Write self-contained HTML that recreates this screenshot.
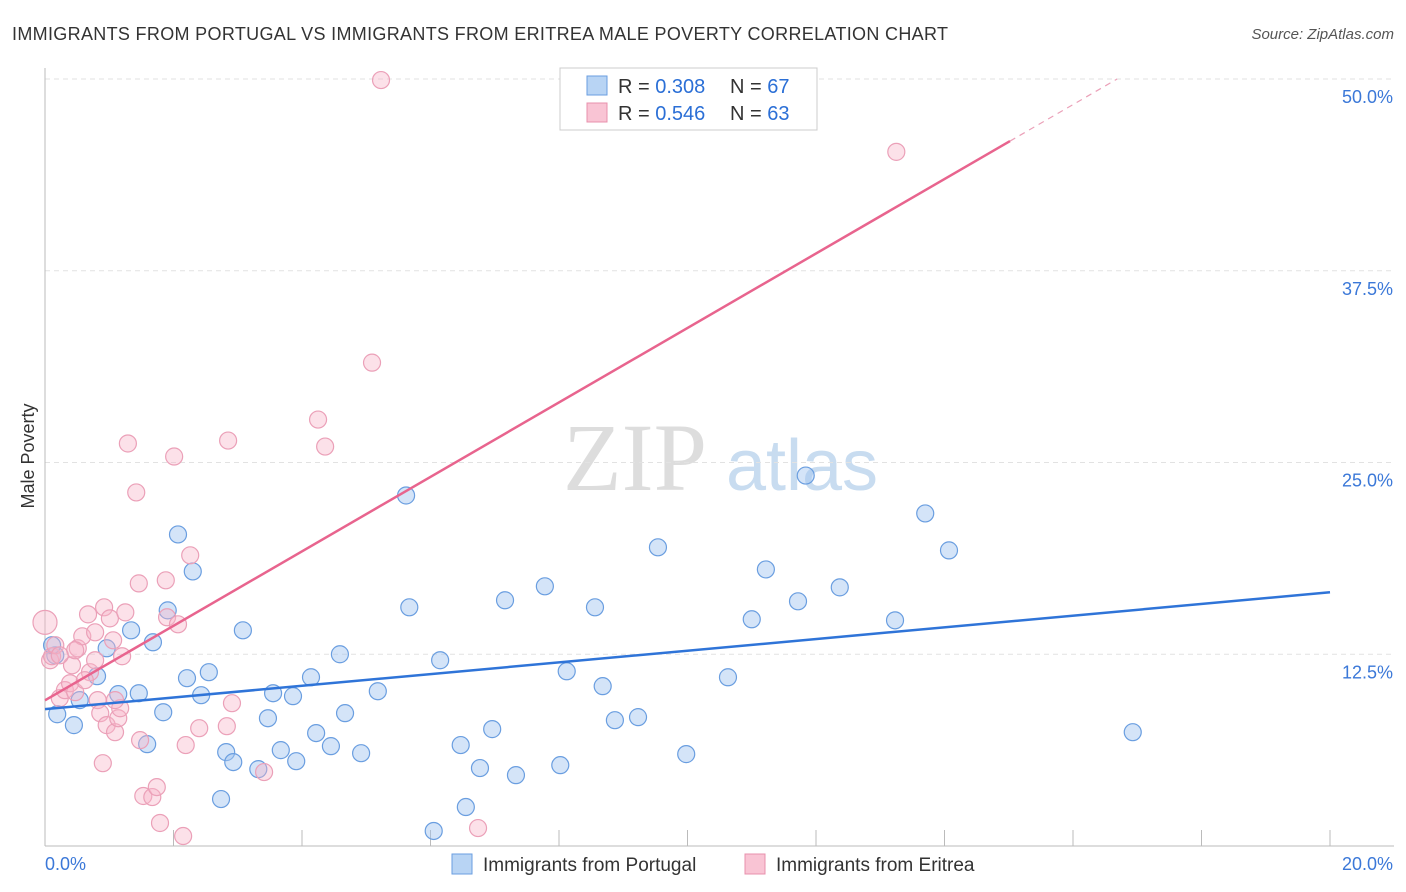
<!DOCTYPE html>
<html><head><meta charset="utf-8">
<style>
body{margin:0;background:#fff;font-family:"Liberation Sans",sans-serif;}
#wrap{position:relative;width:1406px;height:892px;overflow:hidden;}
</style></head>
<body>
<div id="wrap">
<svg id="chart" width="1406" height="892" xmlns="http://www.w3.org/2000/svg">
<text x="12" y="40" font-size="18" fill="#333" textLength="936" lengthAdjust="spacing">IMMIGRANTS FROM PORTUGAL VS IMMIGRANTS FROM ERITREA MALE POVERTY CORRELATION CHART</text>
<text x="1394" y="39" font-size="15" fill="#555" font-style="italic" text-anchor="end">Source: ZipAtlas.com</text>
<text x="34" y="456" font-size="18" fill="#333" text-anchor="middle" transform="rotate(-90 34 456)">Male Poverty</text>
<g>
<text x="635" y="490" font-size="96" fill="#ddd" font-family="Liberation Serif,serif" text-anchor="middle">ZIP</text>
<text x="802" y="490" font-size="72" fill="#c8dcf0" text-anchor="middle">atlas</text>
</g>
<g id="grid"></g><g id="axes"></g><g id="pts"></g><g id="lines"></g>
<g>
<rect x="560" y="68" width="257" height="62" fill="#fff" stroke="#ccc"/>
<rect x="587" y="76" width="20" height="19" fill="#b8d4f4" stroke="#6a9ee0"/>
<text x="618" y="93" font-size="20" fill="#333">R = <tspan fill="#2b6fd6">0.308</tspan></text>
<text x="730" y="93" font-size="20" fill="#333">N = <tspan fill="#2b6fd6">67</tspan></text>
<rect x="587" y="103" width="20" height="19" fill="#f9c4d4" stroke="#e890ac"/>
<text x="618" y="120" font-size="20" fill="#333">R = <tspan fill="#2b6fd6">0.546</tspan></text>
<text x="730" y="120" font-size="20" fill="#333">N = <tspan fill="#2b6fd6">63</tspan></text>
</g>
<g>
<rect x="452" y="854" width="20" height="20" fill="#b8d4f4" stroke="#6a9ee0"/>
<text x="483" y="871" font-size="19" fill="#333">Immigrants from Portugal</text>
<rect x="745" y="854" width="20" height="20" fill="#f9c4d4" stroke="#e890ac"/>
<text x="776" y="871" font-size="19" fill="#333">Immigrants from Eritrea</text>
</g>
</svg>
</div>
<script>
const xTicks=[0,20];
const xTickLabels=["0.0%","20.0%"];
const yTicks=[12.5,25,37.5,50];
const yTickLabels=["12.5%","25.0%","37.5%","50.0%"];
const blueX=[0.19,0.45,0.16,0.11,0.81,0.54,0.96,1.14,1.46,1.34,1.59,1.68,1.91,2.07,2.30,1.84,2.21,2.43,2.55,3.08,2.74,2.82,2.93,3.32,3.47,3.55,3.67,3.86,3.91,4.14,4.22,4.45,4.59,4.67,4.92,5.18,5.62,5.67,6.05,6.15,6.47,6.55,6.77,6.96,7.16,7.33,7.78,8.02,8.12,8.56,8.68,8.87,9.23,9.54,9.98,10.63,11.00,11.22,11.72,11.84,12.37,13.23,13.70,14.07,16.93];
const blueY=[8.59,7.88,12.43,13.09,11.07,9.51,12.89,9.90,9.96,14.06,6.64,13.28,15.36,20.31,17.90,8.72,10.94,9.83,11.33,14.06,3.06,6.12,5.47,5.01,8.33,9.96,6.25,9.77,5.53,11.00,7.36,6.51,12.50,8.66,6.05,10.09,22.85,15.56,0.98,12.11,6.58,2.54,5.08,7.62,16.02,4.62,16.93,5.27,11.39,15.56,10.42,8.20,8.40,19.47,5.99,11.00,14.78,18.03,15.95,24.15,16.86,14.71,21.68,19.27,7.42];
const pinkX=[0,0.08,0.11,0.16,0.23,0.31,0.42,0.39,0.47,0.51,0.58,0.67,0.70,0.78,0.82,0.86,0.90,0.92,0.96,1.01,1.06,1.09,1.14,1.17,1.20,1.25,1.29,1.42,1.46,1.48,1.53,1.67,1.74,1.79,1.88,1.90,2.01,2.07,2.15,2.19,2.26,2.40,2.85,2.83,2.91,3.41,4.25,4.36,5.09,5.23,6.74,13.25,0.47,0.62,0.23,0.78,1.09];
const pinkY=[14.58,12.11,12.37,13.09,9.64,10.16,11.78,10.61,10.03,12.89,13.67,15.10,11.33,13.93,9.51,8.66,5.40,15.56,7.88,14.84,13.41,7.42,8.33,8.98,12.37,15.23,26.24,23.05,17.12,6.90,3.26,3.19,3.84,1.50,17.32,14.91,25.39,14.45,0.65,6.58,18.95,7.68,26.43,7.81,9.31,4.82,27.80,26.04,31.51,49.93,1.17,45.25,12.76,10.81,12.43,12.11,9.51];
const blueTrend=[8.92,0.381];
const pinkTrend=[9.5,2.427];
const pinkSolidEnd=15.02;

const X0=45,X1=1330,Y0=846,Y1=79;
const sx=v=>X0+(v-0)/20*(X1-X0);
const sy=v=>Y0-(v-0)/50*(Y0-Y1);
const NS="http://www.w3.org/2000/svg";
function mk(tag,attrs,parent){const e=document.createElementNS(NS,tag);for(const k in attrs)e.setAttribute(k,attrs[k]);parent.appendChild(e);return e;}
const grid=document.getElementById('grid'),axes=document.getElementById('axes'),pts=document.getElementById('pts'),lines=document.getElementById('lines');
yTicks.forEach((t,i)=>{
  const l=mk('line',{x1:X0,x2:1394,y1:sy(t),y2:sy(t),stroke:'#e2e2e2','stroke-dasharray':'5,4'},grid);
  
  
  const tx=mk('text',{x:1393,y:sy(t)+24,'font-size':18,fill:'#3b78d8','text-anchor':'end'},axes);
  tx.textContent=yTickLabels[i];
  
  
});
const ax=mk('line',{x1:X0,x2:X0,y1:68,y2:Y0,stroke:'#bbb'},axes);


const bx=mk('line',{x1:X0,x2:1394,y1:Y0,y2:Y0,stroke:'#bbb'},axes);


for(let i=0;i<=10;i++){const t=mk('line',{x1:sx(i*2),x2:sx(i*2),y1:Y0,y2:Y0-16,stroke:'#bbb'},axes);
  
  }
xTicks.forEach((t,i)=>{const tx=mk('text',{x:i==0?45:1393,y:870,'font-size':18,fill:'#3b78d8','text-anchor':i==0?'start':'end'},axes);
  tx.textContent=xTickLabels[i];
  
  });
blueX.forEach((x,i)=>{const c=mk('circle',{cx:sx(x),cy:sy(blueY[i]),r:8.5,fill:'rgba(160,196,240,0.45)',stroke:'#6a9ee0','stroke-width':1.2},pts);
  
  });
pinkX.forEach((x,i)=>{const c=mk('circle',{cx:sx(x),cy:sy(pinkY[i]),r:i==0?12:8.5,fill:'rgba(248,180,200,0.4)',stroke:'#eba0b8','stroke-width':1.2},pts);
  
  });
const bl=mk('line',{x1:sx(0),y1:sy(blueTrend[0]),x2:sx(20),y2:sy(blueTrend[0]+blueTrend[1]*20),stroke:'#2f74d8','stroke-width':2.5},lines);


const pl=mk('line',{x1:sx(0),y1:sy(pinkTrend[0]),x2:sx(pinkSolidEnd),y2:sy(pinkTrend[0]+pinkTrend[1]*pinkSolidEnd),stroke:'#e8648e','stroke-width':2.5},lines);


const xe=(50-pinkTrend[0])/pinkTrend[1];
const pd=mk('line',{x1:sx(pinkSolidEnd),y1:sy(pinkTrend[0]+pinkTrend[1]*pinkSolidEnd),x2:sx(xe),y2:sy(50),stroke:'#eba0b8','stroke-width':1.2,'stroke-dasharray':'6,5'},lines);


</script>
</body></html>
